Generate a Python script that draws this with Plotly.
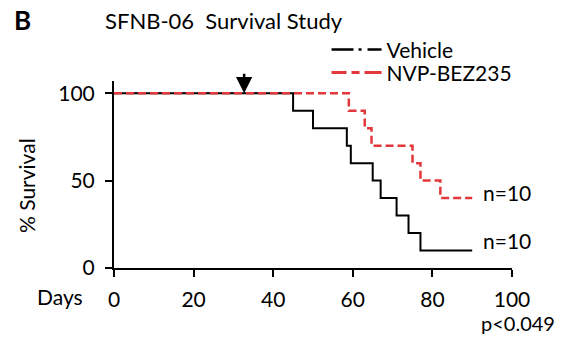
import plotly.graph_objects as go

# Data
vehicle_days = [0, 45, 50, 58.5, 59.5, 65, 67, 71, 74, 77, 90]
vehicle_surv = [100, 90, 80, 70, 60, 50, 40, 30, 20, 10, 10]
nvp_days = [0, 59, 63, 64.7, 75, 77, 82, 90]
nvp_surv = [100, 90, 80, 70, 60, 50, 40, 40]
x_ticks = [0, 20, 40, 60, 80, 100]
y_ticks = [0, 50, 100]
treatment_day = 32.7
group_n = ["n=10", "n=10"]

FONT = "Lato"
RED = "#e3373c"

fig = go.Figure()

fig.add_trace(go.Scatter(x=vehicle_days, y=vehicle_surv, mode="lines",
                         line=dict(color="black", width=2, shape="hv"),
                         showlegend=False, hoverinfo="skip"))
fig.add_trace(go.Scatter(x=nvp_days, y=nvp_surv, mode="lines",
                         line=dict(color=RED, width=2.5, shape="hv", dash="8px,4px"),
                         showlegend=False, hoverinfo="skip"))

# legend entries
fig.add_trace(go.Scatter(x=[None], y=[None], mode="lines", name="Vehicle",
                         line=dict(color="black", width=2.5, dash="22px,5px,3px,6px,14px,10px"),
                         legend="legend"))
fig.add_trace(go.Scatter(x=[None], y=[None], mode="lines", name="NVP-BEZ235",
                         line=dict(color=RED, width=3, dash="15px,5px,8px,5px,17px,10px"),
                         legend="legend2"))

legend_common = dict(xanchor="left", yanchor="middle", bgcolor="rgba(0,0,0,0)",
                     borderwidth=0, itemwidth=50, font=dict(family=FONT, size=21, color="black"))

fig.update_layout(
    width=566, height=345,
    margin=dict(l=114, r=54, t=81, b=77),
    paper_bgcolor="white", plot_bgcolor="white",
    font=dict(family=FONT, size=21, color="black"),
    legend=dict(x=0.534, y=1.166, **legend_common),
    legend2=dict(x=0.534, y=1.043, **legend_common),
    xaxis=dict(range=[0, 100], tickvals=x_ticks, showgrid=False, zeroline=False,
               showline=True, linecolor="black", linewidth=2,
               ticks="outside", ticklen=7, tickwidth=2, tickcolor="black",
               ticklabelstandoff=5, tickfont=dict(family=FONT, size=21)),
    yaxis=dict(range=[0, 107], tickvals=y_ticks, showgrid=False, zeroline=False,
               showline=True, linecolor="black", linewidth=2,
               ticks="outside", ticklen=7, tickwidth=2, tickcolor="black",
               ticklabelstandoff=6, tickfont=dict(family=FONT, size=21)),
)

annotations = [
    dict(text="<b>B</b>", xref="paper", yref="paper", x=(12 - 114) / 398, y=(268 - 20) / 187,
         xanchor="left", yanchor="middle", showarrow=False, font=dict(family=FONT, size=26)),
    dict(text="SFNB-06\u00a0\u00a0Survival Study", xref="paper", yref="paper",
         x=(103 - 114) / 398, y=(268 - 20) / 187, xanchor="left", yanchor="middle",
         showarrow=False, font=dict(family=FONT, size=22)),
    dict(text="% Survival", xref="paper", yref="paper", x=(26 - 114) / 398, y=(268 - 186) / 187,
         xanchor="center", yanchor="middle", textangle=-90, showarrow=False,
         font=dict(family=FONT, size=21)),
    dict(text="Days", xref="paper", yref="paper", x=(60 - 114) / 398, y=(268 - 296) / 187,
         xanchor="center", yanchor="middle", showarrow=False, font=dict(family=FONT, size=21)),
    dict(text="p<0.049", xref="paper", yref="paper", x=(557 - 114) / 398, y=(268 - 323) / 187,
         xanchor="right", yanchor="middle", showarrow=False, font=dict(family=FONT, size=20)),
    dict(text=group_n[1], xref="x", yref="y", x=92.3, y=43, xanchor="left", yanchor="middle",
         showarrow=False, font=dict(family=FONT, size=21)),
    dict(text=group_n[0], xref="x", yref="y", x=92.3, y=16, xanchor="left", yanchor="middle",
         showarrow=False, font=dict(family=FONT, size=21)),
    dict(text="", xref="x", yref="y", x=treatment_day, y=100, ax=0, ay=-21,
         showarrow=True, arrowhead=2, arrowsize=1.3, arrowwidth=2.5, arrowcolor="black"),
]
fig.update_layout(annotations=annotations)

fig.write_html("out.html")
